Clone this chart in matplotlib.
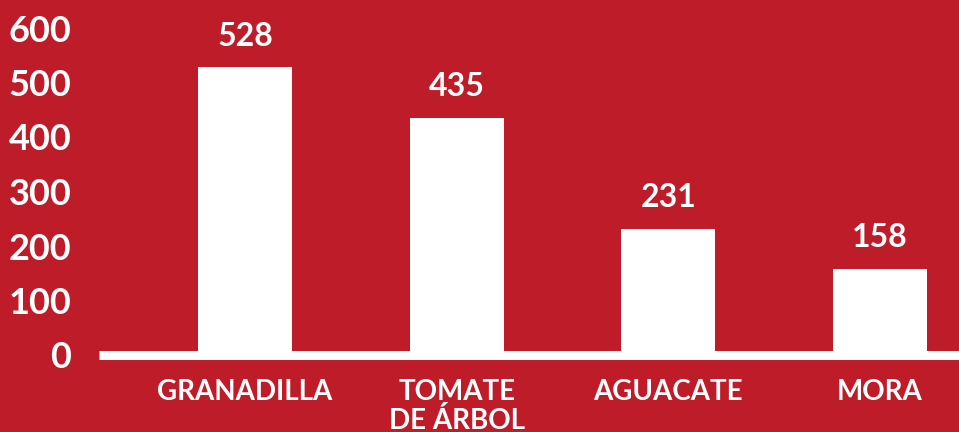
import matplotlib
matplotlib.use("Agg")
import matplotlib.pyplot as plt

# data
categories = ["GRANADILLA", "TOMATE\nDE ÁRBOL", "AGUACATE", "MORA"]
values = [528, 435, 231, 158]
yticks = [0, 100, 200, 300, 400, 500, 600]

red = "#BE1C29"
plt.rcParams['font.family'] = ['Lato', 'DejaVu Sans']
plt.rcParams['font.weight'] = 'bold'

fig = plt.figure(figsize=(9.59, 4.32), dpi=100, facecolor=red)
ax = fig.add_axes([99/959, 77/432, 860/959, 327/432])
ax.set_facecolor(red)

x = list(range(len(categories)))
bars = ax.bar(x, values, width=0.444, color="white", zorder=3)
ax.axhline(0, color="white", lw=6.5, zorder=4, clip_on=False, solid_capstyle="butt")

for b, v in zip(bars, values):
    ax.annotate(str(v), (b.get_x() + b.get_width()/2, v), xytext=(0, 12),
                textcoords="offset points", ha="center", va="bottom",
                color="white", fontsize=23, fontweight="bold", annotation_clip=False)

ax.set_xlim(-0.69, 3.373)
ax.set_ylim(0, 600)
ax.set_yticks(yticks)
ax.set_yticklabels([str(t) for t in yticks], fontsize=26, fontweight="bold", color="white")
ax.set_xticks(x)
ax.set_xticklabels(categories, fontsize=20, fontweight="bold", color="white", linespacing=1.1)
ax.tick_params(axis="y", length=0, pad=20)
ax.tick_params(axis="x", length=0, pad=17)
for s in ax.spines.values():
    s.set_visible(False)

fig.savefig("out.png", dpi=100, facecolor=red)
